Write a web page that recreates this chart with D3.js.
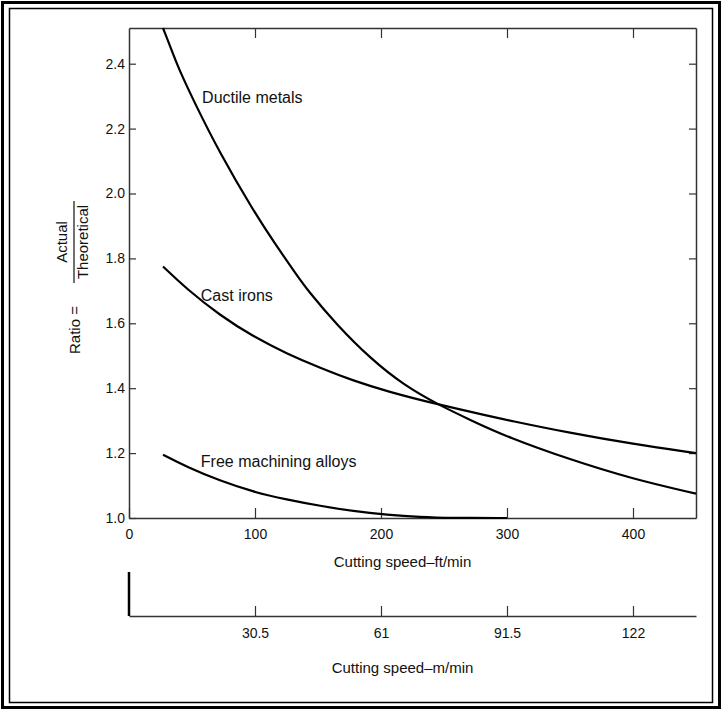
<!DOCTYPE html>
<html>
<head>
<meta charset="utf-8">
<script src="https://cdn.jsdelivr.net/npm/d3@7"></script>
<style>
  body { margin: 0; background: #fff; }
  svg { display: block; }
  text { font-family: "Liberation Sans", Arial, Helvetica, sans-serif; fill: #111; }
</style>
</head>
<body>
<svg width="722" height="711"></svg>
<script>
// values (cutting speed in ft/min, ratio actual/theoretical)
const ductileSpeed = [27, 35, 40, 52, 72, 99, 115, 132, 142, 165, 192, 218, 245, 272, 300, 350, 400, 450];
const ductileRatio = [2.51, 2.43, 2.38, 2.28, 2.125, 1.945, 1.85, 1.755, 1.70, 1.595, 1.49, 1.41, 1.35, 1.30, 1.25, 1.18, 1.12, 1.075];

const castSpeed = [27, 46, 72, 99, 125, 152, 178, 205, 245, 285, 300, 350, 400, 450];
const castRatio = [1.775, 1.705, 1.625, 1.558, 1.507, 1.462, 1.423, 1.39, 1.35, 1.315, 1.302, 1.262, 1.228, 1.20];

const freeSpeed = [27, 46, 72, 99, 125, 152, 178, 205, 231, 255, 300];
const freeRatio = [1.195, 1.157, 1.115, 1.08, 1.057, 1.037, 1.021, 1.01, 1.003, 1.0, 1.0];

const ftTicks = [0, 100, 200, 300, 400];
const mTicks = [30.5, 61, 91.5, 122];
const ratioTicks = [1.0, 1.2, 1.4, 1.6, 1.8, 2.0, 2.2, 2.4];

const curveNames = ["Ductile metals", "Cast irons", "Free machining alloys"];

const svg = d3.select("svg");

// double frame
svg.append("rect").attr("x", 2.5).attr("y", 2.5).attr("width", 717).attr("height", 705)
  .attr("fill", "none").attr("stroke", "#000").attr("stroke-width", 3);
svg.append("rect").attr("x", 9.5).attr("y", 8.5).attr("width", 703).attr("height", 694)
  .attr("fill", "none").attr("stroke", "#000").attr("stroke-width", 1.5);

const plotL = 129, plotR = 696, plotT = 28, plotB = 518;

const x = d3.scaleLinear().domain([0, 450]).range([plotL, plotR]);
const y = d3.scaleLinear().domain([1.0, 2.51]).range([plotB, plotT]);

const axisColor = "#333";

function styleAxis(g) {
  g.select(".domain").attr("stroke", axisColor).attr("stroke-width", 1.5);
  g.selectAll(".tick line").attr("stroke", axisColor).attr("stroke-width", 1.2);
  g.selectAll(".tick text").attr("font-size", 14).attr("fill", "#111")
    .attr("font-family", "Liberation Sans, Arial, sans-serif");
}

// bottom ft/min axis
svg.append("g").attr("transform", `translate(0,${plotB})`)
  .call(d3.axisBottom(x).tickValues(ftTicks).tickSizeInner(-10).tickSizeOuter(0).tickPadding(11)
    .tickFormat(d3.format("d")))
  .call(styleAxis);

// top axis (ticks only)
svg.append("g").attr("transform", `translate(0,${plotT})`)
  .call(d3.axisTop(x).tickValues(ftTicks.slice(1)).tickSizeInner(-10).tickSizeOuter(0).tickFormat(""))
  .call(styleAxis);

// left axis
svg.append("g").attr("transform", `translate(${plotL},0)`)
  .call(d3.axisLeft(y).tickValues(ratioTicks).tickSizeInner(-7).tickSizeOuter(0).tickPadding(4)
    .tickFormat(d3.format(".1f")))
  .call(styleAxis);

// right axis (ticks only)
svg.append("g").attr("transform", `translate(${plotR},0)`)
  .call(d3.axisRight(y).tickValues(ratioTicks.slice(1)).tickSizeInner(-7).tickSizeOuter(0).tickFormat(""))
  .call(styleAxis);

// curves
const line = d3.line()
  .x(d => x(d[0]))
  .y(d => y(d[1]))
  .curve(d3.curveBasis);

const series = [
  d3.zip(ductileSpeed, ductileRatio),
  d3.zip(castSpeed, castRatio),
  d3.zip(freeSpeed, freeRatio)
];

svg.append("g").selectAll("path")
  .data(series)
  .join("path")
  .attr("d", line)
  .attr("fill", "none")
  .attr("stroke", "#000")
  .attr("stroke-width", 2.2);

// curve labels
const labelPos = [[58, 2.295], [57, 1.685], [57, 1.175]];
svg.append("g").selectAll("text")
  .data(curveNames)
  .join("text")
  .attr("x", (d, i) => x(labelPos[i][0]))
  .attr("y", (d, i) => y(labelPos[i][1]))
  .attr("dy", "0.35em")
  .attr("font-size", 16)
  .text(d => d);

// axis titles
svg.append("text").attr("x", (plotL + plotR) / 2 - 10).attr("y", 562).attr("dy", "0.35em")
  .attr("text-anchor", "middle").attr("font-size", 15).text("Cutting speed\u2013ft/min");

// m/min secondary axis
const xm = d3.scaleLinear().domain([0, 450 * 0.305]).range([plotL, plotR]);
const mAxisY = 616;
svg.append("g").attr("transform", `translate(0,${mAxisY})`)
  .call(d3.axisBottom(xm).tickValues(mTicks).tickSizeInner(-10).tickSizeOuter(0).tickPadding(12)
    .tickFormat(d => String(d)))
  .call(styleAxis);
svg.append("line").attr("x1", plotL).attr("x2", plotL).attr("y1", 572).attr("y2", mAxisY)
  .attr("stroke", "#000").attr("stroke-width", 2.5);

svg.append("text").attr("x", (plotL + plotR) / 2 - 10).attr("y", 668).attr("dy", "0.35em")
  .attr("text-anchor", "middle").attr("font-size", 15).text("Cutting speed\u2013m/min");

// y title: Ratio = Actual / Theoretical
const yt = svg.append("g").attr("transform", "translate(75,272) rotate(-90)");
yt.append("text").attr("x", -58).attr("y", 0).attr("dy", "0.35em")
  .attr("text-anchor", "middle").attr("font-size", 15).text("Ratio =");
yt.append("text").attr("x", 30).attr("y", -8).attr("text-anchor", "middle")
  .attr("font-size", 15).text("Actual");
yt.append("line").attr("x1", -11).attr("x2", 71).attr("y1", -1).attr("y2", -1)
  .attr("stroke", "#111").attr("stroke-width", 1.2);
yt.append("text").attr("x", 30).attr("y", 13).attr("text-anchor", "middle")
  .attr("font-size", 15).text("Theoretical");
</script>
</body>
</html>
